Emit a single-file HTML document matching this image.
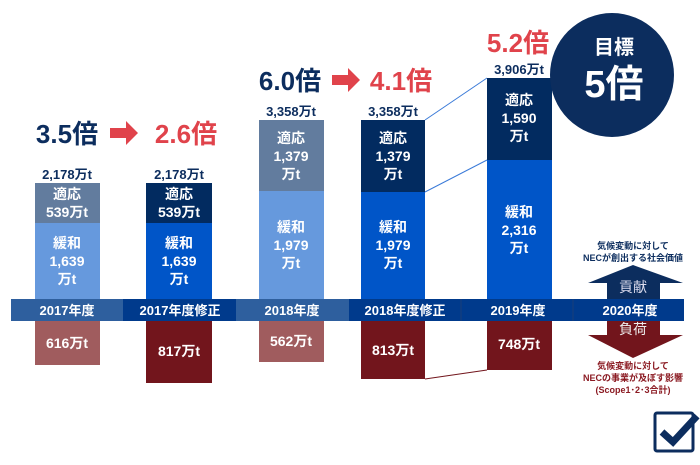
<!DOCTYPE html>
<html><head><meta charset="utf-8"><style>
body{margin:0;background:#fff;}
svg text{font-family:"Liberation Sans","Noto Sans CJK JP",sans-serif;font-weight:bold;}
</style></head><body>
<svg width="700" height="460" viewBox="0 0 700 460" xmlns="http://www.w3.org/2000/svg">
<!-- connectors -->
<line x1="425" y1="120" x2="487" y2="78" stroke="#3a7ad8" stroke-width="1"/>
<line x1="425" y1="192" x2="487" y2="160" stroke="#3a7ad8" stroke-width="1"/>
<line x1="425" y1="379" x2="487" y2="370" stroke="#72151c" stroke-width="1"/>
<!-- upper bars -->
<rect x="35" y="183" width="65" height="40" fill="#627c9e"/>
<rect x="35" y="223" width="65" height="76" fill="#6699dd"/>
<rect x="146" y="183" width="66" height="40" fill="#022b60"/>
<rect x="146" y="223" width="66" height="76" fill="#0055c8"/>
<rect x="259" y="120" width="65" height="71" fill="#627c9e"/>
<rect x="259" y="191" width="65" height="108" fill="#6699dd"/>
<rect x="361" y="120" width="64" height="72" fill="#022b60"/>
<rect x="361" y="192" width="64" height="107" fill="#0055c8"/>
<rect x="487" y="78" width="65" height="82" fill="#022b60"/>
<rect x="487" y="160" width="65" height="139" fill="#0055c8"/>
<!-- lower bars -->
<rect x="35" y="321" width="65" height="44" fill="#a05c5e"/>
<rect x="146" y="321" width="66" height="62" fill="#72151c"/>
<rect x="259" y="321" width="65" height="41" fill="#a05c5e"/>
<rect x="361" y="321" width="64" height="58" fill="#72151c"/>
<rect x="487" y="321" width="65" height="49" fill="#72151c"/>
<!-- axis band -->
<rect x="11" y="299" width="112" height="22" fill="#2e5f9e"/>
<rect x="123" y="299" width="113" height="22" fill="#003a8c"/>
<rect x="236" y="299" width="113" height="22" fill="#2e5f9e"/>
<rect x="349" y="299" width="335" height="22" fill="#003a8c"/>
<g stroke="#1a3f78" stroke-width="1"><line x1="461" y1="299" x2="461" y2="321"/><line x1="573" y1="299" x2="573" y2="321"/></g>
<g fill="#fff" font-size="13" text-anchor="middle">
<text x="67" y="315">2017年度</text><text x="180" y="315">2017年度修正</text>
<text x="292" y="315">2018年度</text><text x="405" y="315">2018年度修正</text>
<text x="518" y="315">2019年度</text><text x="630" y="315">2020年度</text>
</g>
<!-- bar labels -->
<g fill="#fff" font-size="14" text-anchor="middle">
<text x="67" y="199">適応</text><text x="67" y="217">539万t</text>
<text x="67" y="248">緩和</text><text x="67" y="266">1,639</text><text x="67" y="284">万t</text>
<text x="179" y="199">適応</text><text x="179" y="217">539万t</text>
<text x="179" y="248">緩和</text><text x="179" y="266">1,639</text><text x="179" y="284">万t</text>
<text x="291" y="143">適応</text><text x="291" y="161">1,379</text><text x="291" y="179">万t</text>
<text x="291" y="232">緩和</text><text x="291" y="250">1,979</text><text x="291" y="268">万t</text>
<text x="393" y="143">適応</text><text x="393" y="161">1,379</text><text x="393" y="179">万t</text>
<text x="393" y="232">緩和</text><text x="393" y="250">1,979</text><text x="393" y="268">万t</text>
<text x="519" y="105">適応</text><text x="519" y="123">1,590</text><text x="519" y="141">万t</text>
<text x="519" y="217">緩和</text><text x="519" y="235">2,316</text><text x="519" y="253">万t</text>
<text x="67" y="348">616万t</text><text x="179" y="356">817万t</text><text x="291" y="346">562万t</text>
<text x="393" y="355">813万t</text><text x="519" y="349">748万t</text>
</g>
<g fill="#0c2d5e" font-size="13" text-anchor="middle">
<text x="67" y="179">2,178万t</text><text x="179" y="179">2,178万t</text>
<text x="291" y="116">3,358万t</text><text x="393" y="116">3,358万t</text><text x="519" y="74">3,906万t</text>
</g>
<!-- multipliers -->
<g font-size="26" text-anchor="middle">
<text x="67" y="143" fill="#0c2d5e">3.5倍</text>
<text x="186" y="143" fill="#e0434b">2.6倍</text>
<text x="290" y="90" fill="#0c2d5e">6.0倍</text>
<text x="401" y="90" fill="#e0434b">4.1倍</text>
<text x="518" y="52" fill="#e0434b">5.2倍</text>
</g>
<polygon points="110,128 126,128 126,121 138,133 126,145 126,138 110,138" fill="#e0434b"/>
<polygon points="332,75 348,75 348,68 360,80 348,92 348,85 332,85" fill="#e0434b"/>
<!-- goal circle -->
<circle cx="612" cy="75" r="62" fill="#0c2d5e"/>
<text x="614" y="54" fill="#fff" font-size="20" text-anchor="middle">目標</text>
<text x="614" y="97" fill="#fff" font-size="38" text-anchor="middle">5倍</text>
<!-- right arrows -->
<polygon points="633,265 683,283 660,283 660,299 607,299 607,283 588,283" fill="#0c2d5e"/>
<text x="633" y="292" fill="#dde" font-size="14" font-weight="normal" text-anchor="middle" style="font-weight:normal">貢献</text>
<polygon points="607,321 660,321 660,335 683,335 633,358 588,335 607,335" fill="#72151c"/>
<text x="633" y="334" fill="#eee" font-size="14" text-anchor="middle" style="font-weight:normal">負荷</text>
<g font-size="9" text-anchor="middle" fill="#0c2d5e">
<text x="633" y="249">気候変動に対して</text><text x="633" y="261">NECが創出する社会価値</text>
</g>
<g font-size="9" text-anchor="middle" fill="#8b1a22">
<text x="633" y="369">気候変動に対して</text><text x="633" y="381">NECの事業が及ぼす影響</text><text x="633" y="393">(Scope1･2･3合計)</text>
</g>
<!-- checkbox -->
<rect x="655" y="413" width="38" height="38" fill="none" stroke="#0c2d5e" stroke-width="3" rx="2"/>
<polyline points="662,432 673,442 697,416" fill="none" stroke="#0c2d5e" stroke-width="7" stroke-linejoin="miter"/>
</svg>
</body></html>
